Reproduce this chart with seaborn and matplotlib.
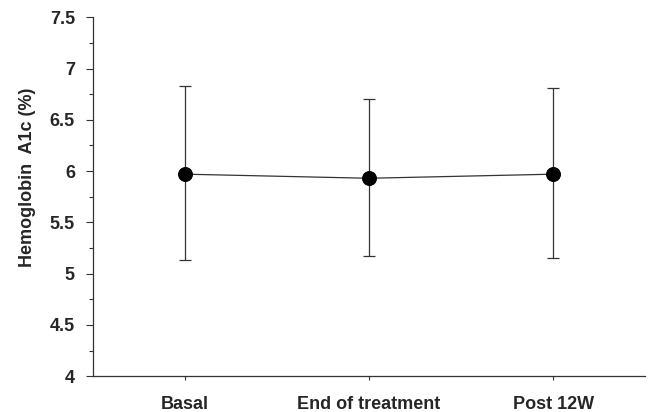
import numpy as np
import pandas as pd
import matplotlib
matplotlib.use("Agg")
import matplotlib.pyplot as plt
from matplotlib.ticker import MultipleLocator
import seaborn as sns

# values
phases = ["Basal", "End of treatment", "Post 12W"]
hba1c_mean = [5.97, 5.93, 5.97]
hba1c_upper = [6.83, 6.70, 6.81]
hba1c_lower = [5.13, 5.17, 5.15]

df = pd.DataFrame({"phase": phases, "mean": hba1c_mean,
                   "upper": hba1c_upper, "lower": hba1c_lower})
df["pos"] = np.arange(len(df))

sns.set_style("ticks")
plt.rcParams["font.family"] = ["Liberation Sans", "DejaVu Sans"]

fig = plt.figure(figsize=(6.48, 4.12), dpi=100)
ax = fig.add_axes([0.1435, 0.087, 0.852, 0.871])

# error bars
ax.errorbar(df["pos"], df["mean"],
            yerr=[df["mean"] - df["lower"], df["upper"] - df["mean"]],
            fmt="none", ecolor="#333333", elinewidth=0.9, capsize=4,
            capthick=0.9, zorder=2)

sns.lineplot(data=df, x="pos", y="mean", ax=ax, color="#333333",
             linewidth=0.9, marker="o", markersize=10,
             markerfacecolor="black", markeredgecolor="black", zorder=3)

ax.set_xlim(-0.5, 2.5)
ax.set_ylim(4, 7.5)
ax.set_xticks(df["pos"])
ax.set_xticklabels(df["phase"], fontsize=13, fontweight="bold")
ax.yaxis.set_minor_locator(MultipleLocator(0.25))
ax.set_yticks([4, 4.5, 5, 5.5, 6, 6.5, 7, 7.5])
ax.set_yticklabels(["4", "4.5", "5", "5.5", "6", "6.5", "7", "7.5"],
                   fontsize=13, fontweight="bold")
ax.tick_params(axis="y", which="major", length=5, width=0.8, color="#333333", pad=8)
ax.tick_params(axis="y", which="minor", length=3, width=0.8, color="#333333")
ax.tick_params(axis="x", which="major", length=3, width=0.8, color="#333333", pad=11)

ax.set_xlabel("")
ax.set_ylabel("Hemoglobin  A1c (%)", fontsize=13, fontweight="bold")
ax.yaxis.set_label_coords(-0.103, 0.554)

sns.despine(ax=ax)
for side in ["left", "bottom"]:
    ax.spines[side].set_linewidth(0.9)
    ax.spines[side].set_color("#333333")

fig.savefig("out.png", dpi=100)
